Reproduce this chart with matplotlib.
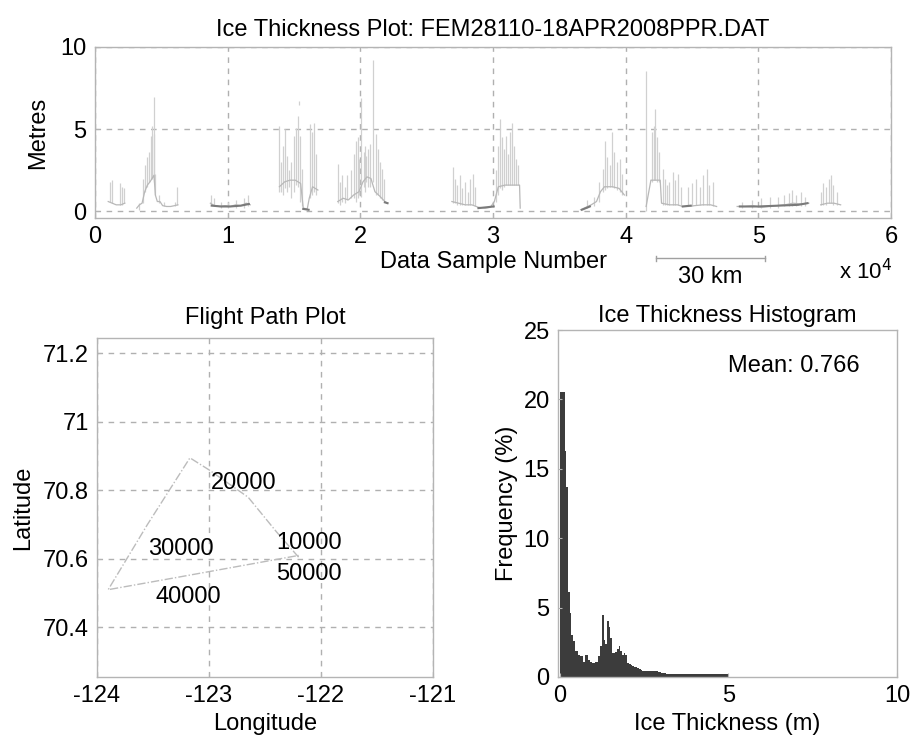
import numpy as np
import matplotlib
matplotlib.use("Agg")
from matplotlib import pyplot as plt
from matplotlib import transforms

nan = np.nan

# ---- ice thickness trace (sample number, metres); nan = no data ----
base_x = [1000, 1300, 1600, 1950, 2250, 2400,
          3150, 3350, 3550, 3750, 3950, 4150, 4300, 4450, 4550, 4700, 4900, 5100, 5400, 5700, 6000, 6250, 6300,
          8700, 9000, 9400, 9800, 10200, 10600, 11000, 11400, 11700, 11800,
          13900, 14300, 14700, 15100, 15500, 15700, 16000, 16150, 16400, 16800, 16900,
          18300, 18700, 19100, 19500, 19900, 20200, 20500, 20800, 21100, 21500, 21850, 22050, 22100,
          26900, 27400, 27900, 28400, 28900, 29400, 29800, 30100, 30400, 30900, 31000, 32000, 32050, 32100,
          36600, 37000, 37400, 37800, 38100, 38400, 39000, 39500, 39900, 40000,
          41540, 41900, 42600, 42700, 43300, 43900, 44300, 44700, 45200, 45800, 46400, 46850, 46900,
          48400, 49000, 49600, 50200, 50800, 51400, 52000, 52600, 53200, 53800, 53900,
          54700, 55200, 55700, 56200]
base_y = [0.6, 0.5, 0.4, 0.4, 0.5, nan,
          0.2, 0.4, 0.5, 1.2, 1.6, 1.8, 2.0, 2.2, 1.0, 0.6, 0.6, 0.35, 0.3, 0.3, 0.35, 0.4, nan,
          0.5, 0.35, 0.3, 0.35, 0.3, 0.4, 0.35, 0.5, 0.4, nan,
          1.5, 1.8, 1.9, 1.9, 1.7, 0.2, 0.15, 0.8, 1.5, 1.3, nan,
          0.6, 0.8, 0.7, 1.0, 1.2, 1.8, 2.1, 2.0, 1.2, 0.9, 0.6, 0.5, nan,
          0.6, 0.5, 0.4, 0.4, 0.25, 0.2, 0.25, 0.6, 1.5, 1.6, 1.6, 1.6, 0.2, nan,
          0.1, 0.25, 0.4, 0.6, 1.2, 1.5, 1.5, 1.4, 1.0, nan,
          0.3, 1.9, 1.9, 0.5, 0.4, 0.4, 0.3, 0.3, 0.35, 0.4, 0.4, 0.3, nan,
          0.3, 0.3, 0.35, 0.25, 0.3, 0.35, 0.4, 0.5, 0.45, 0.5, nan,
          0.4, 0.5, 0.5, 0.4]

# spikes: sample number, low and high value of each stroke
spike_x = [1100, 1250, 1900, 2000, 2200,
           3300, 3600, 3800, 3950, 4100, 4200, 4300, 4420, 4480, 4550, 4800, 5200, 6000, 6200,
           8750, 9000, 9500, 10000, 10600, 11200, 11500,
           13900, 14050, 14150, 14300, 14450, 14600, 14800, 15000, 15150, 15300, 15380, 15450, 15600,
           16200, 16350, 16500, 16650,
           18350, 18500, 18650, 18850, 19000, 19300, 19500, 19650, 19800, 19900, 20020, 20250, 20350,
           20450, 20600, 20700, 20950, 21150, 21300, 21450, 21600, 21750,
           26950, 27100, 27300, 27500, 27700, 27900, 28100, 28300, 28500, 28650,
           30200, 30400, 30550, 30700, 30850, 31000, 31150, 31300, 31450, 31600, 31750, 31900,
           37100, 37600, 38000, 38300, 38450, 38600, 38800, 38990, 39150, 39350, 39550, 39750,
           41540, 41950, 42100, 42200, 42350, 42500, 42800, 42950, 43150, 43300, 43550, 43750, 43950, 44150,
           44700, 45000, 45300, 45600, 45800, 46100, 46300, 46600,
           48800, 49500, 50200, 50900, 51500, 51900, 52300, 52520, 52800, 53200, 53500,
           54750, 54900, 55100, 55300, 55450, 55650, 55900]
spike_lo = [0.6, 0.5, 0.4, 0.4, 0.5,
            0.1, 0.5, 1.2, 1.5, 1.8, 2.0, 2.0, 2.2, 1.8, 1.0, 0.5, 0.3, 0.3, 0.4,
            0.4, 0.3, 0.2, 0.2, 0.2, 0.2, 0.3,
            1.2, 1.2, 1.0, 1.4, 1.2, 1.5, 0.8, 1.2, 1.6, 1.5, 6.5, 0.6, 0.3,
            0.8, 1.0, 1.2, 1.0,
            0.5, 0.4, 0.6, 0.5, 0.7, 0.8, 0.8, 0.6, 0.8, 1.0, 0.9, 1.5, 1.2,
            1.8, 1.5, 1.5, 1.8, 1.0, 1.0, 0.8, 0.7, 0.6,
            0.5, 0.5, 0.4, 0.4, 0.4, 0.4, 0.4, 0.4, 0.4, 0.3,
            0.6, 1.0, 1.4, 1.3, 1.5, 1.6, 1.6, 1.6, 1.6, 1.6, 1.6, 1.6,
            0.2, 0.3, 0.6, 1.2, 1.3, 1.4, 1.5, 1.5, 1.4, 1.3, 1.2, 1.0,
            0.0, 1.8, 1.9, 1.9, 1.8, 1.8, 0.4, 0.4, 0.4, 0.4, 0.4, 0.4, 0.4, 0.4,
            0.3, 0.3, 0.4, 0.4, 0.4, 0.4, 0.4, 0.3,
            0.2, 0.2, 0.2, 0.2, 0.2, 0.3, 0.3, 0.3, 0.3, 0.3, 0.3,
            0.4, 0.4, 0.4, 0.5, 0.5, 0.4, 0.4]
spike_hi = [1.8, 1.9, 1.7, 1.5, 1.4,
            0.5, 2.0, 2.8, 3.3, 3.6, 4.6, 5.2, 6.95, 4.7, 2.3, 1.0, 0.6, 0.6, 1.5,
            1.0, 0.8, 0.6, 0.6, 0.7, 0.8, 1.0,
            5.2, 3.0, 4.0, 5.0, 3.4, 2.5, 3.0, 4.6, 5.1, 5.8, 6.7, 4.6, 2.6,
            5.3, 4.8, 5.4, 3.5,
            2.9, 1.8, 2.2, 1.5, 2.2, 2.5, 3.5, 4.3, 4.5, 3.2, 6.9, 3.6, 4.0,
            3.4, 3.8, 4.1, 9.2, 4.7, 3.8, 3.0, 2.6, 2.0,
            2.7, 2.0, 1.6, 2.2, 1.4, 1.8, 1.2, 2.0, 2.3, 1.5,
            2.5, 4.0, 5.6, 4.5, 3.8, 4.6, 3.5, 4.8, 5.4, 4.0, 3.2, 2.8,
            0.7, 0.9, 1.8, 2.6, 4.3, 3.3, 2.8, 4.8, 3.6, 3.0, 3.2, 2.3,
            8.55, 4.8, 5.2, 6.2, 4.5, 3.6, 2.6, 2.0, 1.6, 1.8, 2.4, 1.9, 2.3, 1.5,
            1.5, 1.7, 2.0, 1.5, 2.2, 2.6, 1.6, 1.8,
            0.6, 0.7, 0.8, 0.9, 0.9, 1.0, 1.1, 1.3, 1.0, 1.2, 0.9,
            1.2, 1.7, 1.5, 2.0, 2.2, 1.6, 1.2]

# dense low-ice stretches that print darker
dense_x = [8800, 9500, 10200, 11000, 11600, 11700,
           15700, 16100, 16200,
           21850, 22050, 22100,
           28900, 29500, 30050, 30100,
           36700, 37300, 37400,
           44300, 44900, 45000,
           48600, 50000, 51500, 53000, 53700]
dense_y = [0.35, 0.3, 0.3, 0.35, 0.45, nan,
           0.15, 0.1, nan,
           0.55, 0.5, nan,
           0.2, 0.25, 0.3, nan,
           0.1, 0.3, nan,
           0.3, 0.35, nan,
           0.3, 0.3, 0.35, 0.4, 0.5]

scale_bar_samples = [42300, 50500]

# ---- flight path ----
path_lon = [-122.20, -122.40, -122.65, -123.00, -123.17, -123.55, -123.90, -123.30, -122.20]
path_lat = [70.605, 70.68, 70.78, 70.86, 70.895, 70.70, 70.51, 70.545, 70.61]
label_text = ["10000", "20000", "30000", "40000", "50000"]
label_lon = [-122.40, -122.985, -123.54, -123.48, -122.40]
label_lat = [70.645, 70.823, 70.63, 70.49, 70.557]

# ---- histogram (0.05 m bins, percent) ----
bin_width = 0.05
hist_freq = [20.5, 20.5, 20.5, 16.3, 13.7, 6.1, 4.6, 3.0, 2.6, 1.9,
             1.9, 1.6, 1.5, 1.5, 1.1, 1.6, 1.6, 1.2, 1.1, 1.0,
             1.0, 1.1, 1.1, 1.5, 2.2, 4.5, 2.7, 2.4, 4.0, 3.6,
             2.8, 1.7, 1.7, 1.8, 2.0, 2.2, 1.9, 1.6, 1.7, 1.6,
             1.0, 0.95, 0.9, 0.8, 0.75, 0.7, 0.62, 0.55, 0.5, 0.45,
             0.45, 0.45, 0.45, 0.45, 0.4, 0.4, 0.4, 0.4, 0.35, 0.35,
             0.3, 0.3, 0.3, 0.25, 0.25, 0.25, 0.2, 0.2, 0.2, 0.2,
             0.2, 0.2, 0.2, 0.2, 0.2, 0.2, 0.2, 0.2, 0.2, 0.2,
             0.2, 0.2, 0.2, 0.2, 0.2, 0.2, 0.2, 0.2, 0.2, 0.2,
             0.2, 0.2, 0.2, 0.2, 0.2, 0.2, 0.2, 0.2, 0.2, 0.2]
mean_thickness = 0.766

plt.rcParams['font.family'] = ['Liberation Sans', 'DejaVu Sans']
plt.rcParams['font.size'] = 17
plt.rcParams['axes.unicode_minus'] = False

FS = 17
frame_col = '#b4b4b4'
grid_kw = dict(color='#b0b0b0', linestyle=(0, (4, 4)), linewidth=1)


def style_axes(ax):
    for s in ax.spines.values():
        s.set_color(frame_col)
        s.set_linewidth(1)
    ax.tick_params(direction='in', length=3, color=frame_col, labelsize=FS, pad=6)
    ax.grid(True, **grid_kw)


fig = plt.figure(figsize=(9.14, 7.46), dpi=100)

# top: thickness trace
ax1 = fig.add_axes([0.1039, 0.7078, 0.871, 0.2292])
ax1.vlines(spike_x, spike_lo, spike_hi, color='#d0d0d0', linewidth=0.9)
ax1.plot(base_x, base_y, color='#b8b8b8', linewidth=0.9)
ax1.plot(dense_x, dense_y, color='#7a7a7a', linewidth=1.5)
ax1.set_xlim(0, 60000)
ax1.set_ylim(-0.4, 10)
ax1.set_xticks(np.arange(0, 60001, 10000))
ax1.set_xticklabels([str(i) for i in range(7)])
ax1.set_yticks([0, 5, 10])
style_axes(ax1)
ax1.set_title('Ice Thickness Plot: FEM28110-18APR2008PPR.DAT', fontsize=FS, pad=8)
ax1.set_ylabel('Metres', fontsize=FS, labelpad=8)
ax1.set_xlabel('Data Sample Number', fontsize=FS, labelpad=2)
ax1.text(0.968, -0.24, r'x 10$^4$', transform=ax1.transAxes, fontsize=16, va='top', ha='center')
tr = transforms.blended_transform_factory(ax1.transData, ax1.transAxes)
ax1.plot(scale_bar_samples, [-0.235, -0.235], color='#a0a0a0', linewidth=1, transform=tr, clip_on=False)
for sx in scale_bar_samples:
    ax1.plot([sx, sx], [-0.22, -0.25], color='#a0a0a0', linewidth=1, transform=tr, clip_on=False)
ax1.text(np.mean(scale_bar_samples), -0.28, '30 km', transform=tr, fontsize=FS, ha='center', va='top')

# bottom left: flight path
ax2 = fig.add_axes([0.1061, 0.0925, 0.3676, 0.4544])
ax2.plot(path_lon, path_lat, color='#bcbcbc', linewidth=1, linestyle=(0, (6, 1.5, 1, 1.5)))
for t, lo, la in zip(label_text, label_lon, label_lat):
    ax2.text(lo, la, t, fontsize=FS, ha='left', va='center')
ax2.set_xlim(-124, -121)
ax2.set_ylim(70.255, 71.245)
ax2.set_xticks([-124, -123, -122, -121])
ax2.set_yticks([70.4, 70.6, 70.8, 71.0, 71.2])
ax2.set_yticklabels(['70.4', '70.6', '70.8', '71', '71.2'])
style_axes(ax2)
ax2.set_title('Flight Path Plot', fontsize=FS, pad=10)
ax2.set_xlabel('Longitude', fontsize=FS, labelpad=4)
ax2.set_ylabel('Latitude', fontsize=FS, labelpad=6)

# bottom right: histogram
ax3 = fig.add_axes([0.6105, 0.0925, 0.3709, 0.4651])
edges = np.arange(len(hist_freq)) * bin_width
ax3.bar(edges, hist_freq, width=bin_width, align='edge', color='#3c3c3c', edgecolor='none')
ax3.set_xlim(-0.05, 10)
ax3.set_ylim(0, 25)
ax3.set_xticks([0, 5, 10])
ax3.set_yticks([0, 5, 10, 15, 20, 25])
style_axes(ax3)
ax3.grid(False)
ax3.text(5.0, 22.4, f'Mean: {mean_thickness:.3f}', fontsize=FS, ha='left', va='center')
ax3.set_title('Ice Thickness Histogram', fontsize=FS, pad=6)
ax3.set_xlabel('Ice Thickness (m)', fontsize=FS, labelpad=4)
ax3.set_ylabel('Frequency (%)', fontsize=FS, labelpad=4)

fig.savefig('out.png', dpi=100)
